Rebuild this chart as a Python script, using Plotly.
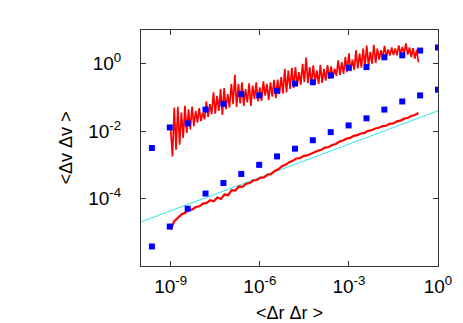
import numpy as np
import plotly.graph_objects as go

# blue squares: x = <dr dr>, y given as log10 values
sq_x = [2.33e-10, 9.31e-10, 3.73e-9, 1.49e-8, 5.96e-8, 2.38e-7, 9.54e-7, 3.81e-6,
        1.53e-5, 6.10e-5, 2.44e-4, 9.77e-4, 3.91e-3, 1.56e-2, 6.25e-2, 0.25, 1.0]
sq_upper_log = [-2.50, -1.89, -1.77, -1.36, -1.19, -0.90, -0.94, -0.80, -0.59,
                -0.55, -0.35, -0.12, -0.10, 0.19, 0.25, 0.39, 0.48]
sq_lower_log = [-5.42, -4.83, -4.30, -3.85, -3.54, -3.27, -3.00, -2.75, -2.52,
                -2.27, -2.03, -1.83, -1.62, -1.36, -1.12, -0.94, -0.77]

# noisy red curves, sampled on an even log10 grid from 1e-9 to ~2e-1
red_x_log = (-9.0, -0.66)
red_upper_log = [
    -1.95, -2.75, -1.30, -2.55, -1.28, -2.40, -1.45, -2.20, -1.25, -2.05,
    -1.35, -1.95, -1.27, -1.85, -1.40, -1.75, -1.32, -1.70, -1.45, -1.65,
    -1.12, -1.58, -1.20, -1.50, -0.85, -1.48, -0.95, -1.40, -0.75, -1.52,
    -0.72, -1.35, -0.90, -1.30, -0.60, -1.20, -0.33, -1.28, -0.60, -1.18,
    -0.55, -1.25, -0.75, -1.15, -0.58, -1.25, -0.65, -1.05, -0.55, -1.12,
    -0.70, -1.10, -0.52, -0.95, -0.60, -1.07, -0.55, -0.98, -0.48, -1.02,
    -0.47, -0.90, -0.40, -0.88, -0.15, -0.85, -0.20, -0.75, -0.12, -0.72,
    -0.10, -0.65, -0.25, -0.62, 0.00, -0.55, 0.18, -0.58, -0.10, -0.61,
    -0.05, -0.55, -0.20, -0.60, -0.03, -0.57, -0.15, -0.50, -0.04, -0.45,
    -0.08, -0.42, -0.15, -0.36, 0.10, -0.33, 0.05, -0.30, 0.20, -0.25,
    0.31, -0.22, 0.12, -0.18, 0.40, -0.14, 0.30, -0.12, 0.45, -0.08,
    0.54, -0.05, 0.35, 0.00, 0.56, 0.02, 0.45, 0.12, 0.40, 0.18,
    0.53, 0.20, 0.42, 0.24, 0.48, 0.26, 0.45, 0.25, 0.54, 0.28,
    0.50, 0.30, 0.60, 0.27, 0.48, 0.20, 0.46, 0.15, 0.42, 0.05,
]
red_lower_log = [
    -4.92, -4.67, -4.57, -4.47, -4.42, -4.34, -4.32, -4.25, -4.23, -4.15,
    -4.13, -4.05, -4.08, -3.97, -4.01, -3.88, -3.90, -3.75, -3.76, -3.64,
    -3.65, -3.56, -3.54, -3.46, -3.45, -3.38, -3.37, -3.29, -3.27, -3.18,
    -3.13, -3.04, -3.00, -2.92, -2.88, -2.81, -2.80, -2.74, -2.72, -2.67,
    -2.64, -2.58, -2.55, -2.49, -2.47, -2.41, -2.38, -2.31, -2.28, -2.22,
    -2.20, -2.14, -2.12, -2.07, -2.05, -1.99, -1.97, -1.92, -1.90, -1.85,
    -1.84, -1.78, -1.77, -1.71, -1.69, -1.63, -1.61, -1.55, -1.52, -1.46,
]

# cyan reference line (power law ~ x^(1/3))
cyan_x = [1e-10, 1.0]
cyan_y = [2.04e-5, 0.040]

x_ticks = [1e-9, 1e-6, 1e-3, 1.0]
x_ticktext = ["10<sup>-9</sup>", "10<sup>-6</sup>", "10<sup>-3</sup>", "10<sup>0</sup>"]
y_ticks = [1e-4, 1e-2, 1.0]
y_ticktext = ["10<sup>-4</sup>", "10<sup>-2</sup>", "10<sup>0</sup>"]

fig = go.Figure()

fig.add_trace(go.Scatter(x=cyan_x, y=cyan_y, mode="lines",
                         line=dict(color="#30e6e6", width=1), hoverinfo="skip"))

xu = 10 ** np.linspace(red_x_log[0], red_x_log[1], len(red_upper_log))
fig.add_trace(go.Scatter(x=xu, y=10 ** np.array(red_upper_log), mode="lines",
                         line=dict(color="#ff0000", width=1.7)))

xl = 10 ** np.linspace(red_x_log[0], red_x_log[1], len(red_lower_log))
fig.add_trace(go.Scatter(x=xl, y=10 ** np.array(red_lower_log), mode="lines",
                         line=dict(color="#ff0000", width=2.2)))

for ylog in (sq_upper_log, sq_lower_log):
    fig.add_trace(go.Scatter(x=sq_x, y=10 ** np.array(ylog), mode="markers",
                             marker=dict(symbol="square", size=6, color="#0000ff",
                                         line=dict(width=0))))

axis_style = dict(type="log", showgrid=False, zeroline=False, showline=True,
                  linecolor="#333333", linewidth=1, mirror="ticks",
                  ticks="inside", ticklen=5, tickcolor="#333333",
                  tickfont=dict(size=19, color="black"))

fig.update_layout(
    width=463, height=323,
    margin=dict(l=133, r=33, t=22, b=58),
    plot_bgcolor="white", paper_bgcolor="white",
    font=dict(family="Liberation Sans, Arial, sans-serif", color="black"),
    showlegend=False,
    xaxis=dict(range=[-10, 0], tickvals=x_ticks, ticktext=x_ticktext,
               ticklabelstandoff=3,
               title=dict(text="<Δr Δr >", font=dict(size=18), standoff=10),
               **axis_style),
    yaxis=dict(range=[-6, 1], tickvals=y_ticks, ticktext=y_ticktext,
               ticklabelstandoff=15,
               title=dict(text="<Δv Δv >", font=dict(size=18), standoff=10),
               **axis_style),
)

fig.write_html("out.html")
